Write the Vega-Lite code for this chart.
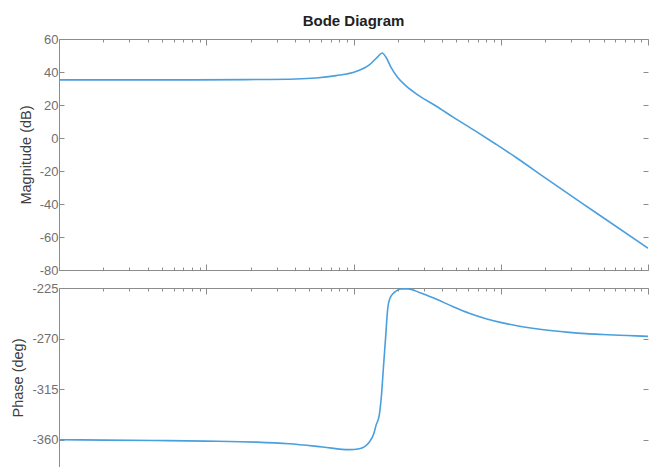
{
  "$schema": "https://vega.github.io/schema/vega-lite/v6.json",
  "padding": {"left": 10, "top": 14, "right": 0, "bottom": 0},
  "background": "white",
  "config": {
    "view": {"stroke": null},
    "concat": {"spacing": 18},
    "axis": {
      "domainColor": "#8c8c8c",
      "tickColor": "#8c8c8c",
      "labelColor": "#707070",
      "labelFont": "Liberation Sans",
      "labelFontSize": 13,
      "titleFont": "Liberation Sans",
      "titleFontSize": 14.5,
      "titleFontWeight": "normal",
      "titleColor": "#404040",
      "grid": false
    }
  },
  "datasets": {
    "mag": [
      {"w": 1, "mag": 35.2}, {"w": 3.9, "mag": 35.2}, {"w": 8.52, "mag": 35.2},
      {"w": 18.6, "mag": 35.4}, {"w": 40.7, "mag": 35.8}, {"w": 55.6, "mag": 36.4},
      {"w": 76.1, "mag": 37.8}, {"w": 104.0, "mag": 40.3}, {"w": 128.0, "mag": 44.3},
      {"w": 146.0, "mag": 49.2}, {"w": 156.2, "mag": 51.5}, {"w": 166.3, "mag": 48.9},
      {"w": 179.8, "mag": 42.8}, {"w": 199.7, "mag": 36.7}, {"w": 227.3, "mag": 31.6},
      {"w": 279.9, "mag": 25.5}, {"w": 363.1, "mag": 19.4}, {"w": 471.7, "mag": 12.8},
      {"w": 679.2, "mag": 4.0}, {"w": 929.0, "mag": -3.8}, {"w": 1270.6, "mag": -11.8},
      {"w": 2028, "mag": -24.5}, {"w": 4436, "mag": -45.3}, {"w": 10000, "mag": -66.8}
    ],
    "phase": [
      {"w": 1, "phase": -359.8}, {"w": 2.08, "phase": -360.1}, {"w": 4.56, "phase": -360.5},
      {"w": 9.95, "phase": -361.0}, {"w": 21.8, "phase": -361.9}, {"w": 36.6, "phase": -363.4},
      {"w": 61.8, "phase": -366.2}, {"w": 93.5, "phase": -368.6}, {"w": 109.4, "phase": -367.8},
      {"w": 127.9, "phase": -362.0}, {"w": 137.7, "phase": -354.0}, {"w": 142.2, "phase": -347.0},
      {"w": 149.6, "phase": -338.0}, {"w": 154.9, "phase": -320.0}, {"w": 159.8, "phase": -295.0},
      {"w": 165.0, "phase": -270.0}, {"w": 170.7, "phase": -243.4}, {"w": 177.0, "phase": -234.0},
      {"w": 184.6, "phase": -230.3}, {"w": 194.4, "phase": -227.7}, {"w": 210.2, "phase": -225.9},
      {"w": 234.5, "phase": -225.8}, {"w": 279.9, "phase": -228.9}, {"w": 363.1, "phase": -234.8},
      {"w": 471.7, "phase": -241.4}, {"w": 611.4, "phase": -247.4}, {"w": 794.3, "phase": -252.3},
      {"w": 1030, "phase": -256.0}, {"w": 1337, "phase": -258.9}, {"w": 1734, "phase": -261.2},
      {"w": 2254, "phase": -263.0}, {"w": 2923, "phase": -264.4}, {"w": 3793, "phase": -265.5},
      {"w": 4922, "phase": -266.3}, {"w": 6383, "phase": -267.0}, {"w": 8290, "phase": -267.5},
      {"w": 10000, "phase": -268.0}
    ]
  },
  "vconcat": [
    {
      "width": 589,
      "height": 231,
      "title": {"text": "Bode Diagram", "font": "Liberation Sans", "fontSize": 15, "fontWeight": "bold", "color": "#222222", "anchor": "middle", "frame": "group", "offset": 4},
      "data": {"name": "mag"},
      "layer": [
        {
          "mark": {"type": "line", "color": "#4a9fde", "strokeWidth": 1.6, "interpolate": "monotone", "clip": true},
          "encoding": {
            "x": {"field": "w", "type": "quantitative", "scale": {"type": "log", "domain": [1, 10000], "nice": false},
              "axis": {"orient": "bottom", "values": [1,2,3,4,5,6,7,8,9,10,20,30,40,50,60,70,80,90,100,200,300,400,500,600,700,800,900,1000,2000,3000,4000,5000,6000,7000,8000,9000,10000],
                "labels": false, "title": null,
                "tickSize": {"condition": {"test": "abs(log(datum.value)/LN10 - round(log(datum.value)/LN10)) < 0.0001", "value": -6}, "value": -3}}},
            "y": {"field": "mag", "type": "quantitative", "scale": {"domain": [-80, 60], "nice": false, "zero": false},
              "axis": {"orient": "left", "values": [-80,-60,-40,-20,0,20,40,60], "tickSize": -5, "labelPadding": 6, "labelExpr": "replace(datum.label, '\u2212', '-')", "title": "Magnitude (dB)", "titlePadding": 6}}
          }
        },
        {
          "mark": {"type": "line", "strokeOpacity": 0, "clip": true},
          "encoding": {
            "x": {"field": "w", "type": "quantitative", "scale": {"type": "log", "domain": [1, 10000], "nice": false},
              "axis": {"orient": "top", "values": [1,2,3,4,5,6,7,8,9,10,20,30,40,50,60,70,80,90,100,200,300,400,500,600,700,800,900,1000,2000,3000,4000,5000,6000,7000,8000,9000,10000],
                "labels": false, "title": null,
                "tickSize": {"condition": {"test": "abs(log(datum.value)/LN10 - round(log(datum.value)/LN10)) < 0.0001", "value": -6}, "value": -3}}},
            "y": {"field": "mag", "type": "quantitative", "scale": {"domain": [-80, 60], "nice": false, "zero": false},
              "axis": {"orient": "right", "values": [-80,-60,-40,-20,0,20,40,60], "tickSize": -5, "labels": false, "domain": false, "title": null}}
          }
        }
      ],
      "resolve": {"axis": {"x": "independent", "y": "independent"}}
    },
    {
      "width": 589,
      "height": 179,
      "data": {"name": "phase"},
      "layer": [
        {
          "mark": {"type": "line", "color": "#4a9fde", "strokeWidth": 1.6, "interpolate": "monotone", "clip": true},
          "encoding": {
            "x": {"field": "w", "type": "quantitative", "scale": {"type": "log", "domain": [1, 10000], "nice": false},
              "axis": {"orient": "top", "values": [1,2,3,4,5,6,7,8,9,10,20,30,40,50,60,70,80,90,100,200,300,400,500,600,700,800,900,1000,2000,3000,4000,5000,6000,7000,8000,9000,10000],
                "labels": false, "title": null,
                "tickSize": {"condition": {"test": "abs(log(datum.value)/LN10 - round(log(datum.value)/LN10)) < 0.0001", "value": -6}, "value": -3}}},
            "y": {"field": "phase", "type": "quantitative", "scale": {"domain": [-384, -225], "nice": false, "zero": false},
              "axis": {"orient": "left", "values": [-360,-315,-270,-225], "tickSize": -5, "labelPadding": 6, "labelExpr": "replace(datum.label, '\u2212', '-')", "title": "Phase (deg)", "titlePadding": 6}}
          }
        },
        {
          "mark": {"type": "line", "strokeOpacity": 0, "clip": true},
          "encoding": {
            "x": {"field": "w", "type": "quantitative", "scale": {"type": "log", "domain": [1, 10000], "nice": false}, "axis": null},
            "y": {"field": "phase", "type": "quantitative", "scale": {"domain": [-384, -225], "nice": false, "zero": false},
              "axis": {"orient": "right", "values": [-360,-315,-270,-225], "tickSize": -5, "labels": false, "domain": false, "title": null}}
          }
        }
      ],
      "resolve": {"axis": {"x": "independent", "y": "independent"}}
    }
  ],
  "bounds": "flush"
}
